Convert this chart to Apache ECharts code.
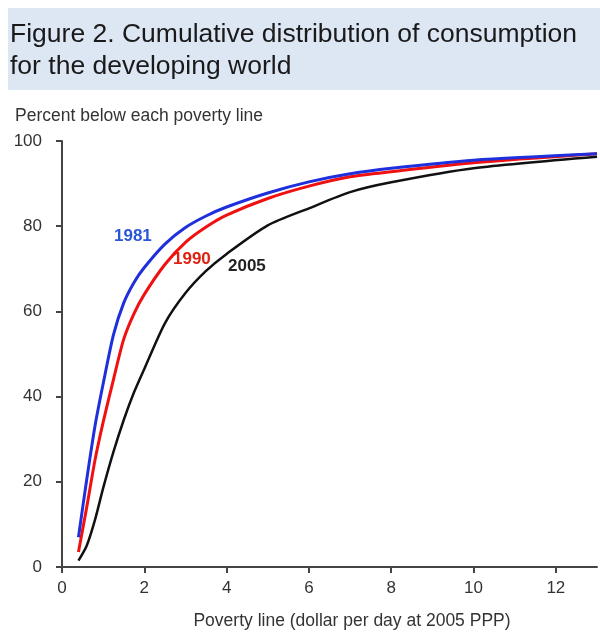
<!DOCTYPE html>
<html>
<head>
<meta charset="utf-8">
<script src="https://cdn.jsdelivr.net/npm/echarts@6/dist/echarts.min.js"></script>
<style>
  html, body { margin: 0; padding: 0; background: #fff; }
  #chart { width: 600px; height: 635px; }
</style>
</head>
<body>
<div id="chart"></div>
<script>
// poverty line (dollar per day) and percent below for each year
const povertyLines = [0.4, 0.6, 0.8, 1.0, 1.25, 1.5, 1.75, 2, 2.5, 3, 3.5, 4, 5, 6, 7, 8, 10, 13]
const pct1981 = [7, 20.5, 33, 43, 54.5, 62, 66.8, 70.3, 75.8, 79.7, 82.4, 84.5, 87.8, 90.4, 92.3, 93.6, 95.5, 97]
const pct1990 = [3.5, 14, 25, 34, 44, 53.5, 59.5, 64, 71, 76.2, 79.8, 82.6, 86.5, 89.4, 91.6, 92.8, 94.9, 97]
const pct2005 = [1.5, 5, 11, 18.5, 27, 34.5, 41, 46.5, 57.2, 64.3, 69.5, 73.5, 80.2, 84.2, 88, 90.3, 93.6, 96.3]
const xTicks = [0, 2, 4, 6, 8, 10, 12]

const toPairs = (ys) => ys.map((y, i) => [povertyLines[i], y])

const chart = echarts.init(document.getElementById('chart'))
const option = {
  animation: false,
  title: {
    text: 'Figure 2. Cumulative distribution of consumption\nfor the developing world',
    left: 5,
    top: 14,
    textStyle: {
      fontFamily: 'Liberation Sans, Arial',
      fontSize: 26.5,
      fontWeight: 'normal',
      color: '#1a1a1a',
      lineHeight: 32
    }
  },
  graphic: [
    {
      type: 'rect',
      left: 8,
      top: 8,
      z: -1,
      shape: { width: 592, height: 82 },
      style: { fill: '#dde6f3' }
    },
    {
      type: 'text',
      left: 15,
      top: 107,
      style: { text: 'Percent below each poverty line', fill: '#333', font: '17.5px Liberation Sans, Arial' }
    },
    {
      type: 'text',
      left: 114,
      top: 228,
      style: { text: '1981', fill: '#2a55d8', font: 'bold 17px Liberation Sans, Arial' }
    },
    {
      type: 'text',
      left: 173,
      top: 251,
      style: { text: '1990', fill: '#e02010', font: 'bold 17px Liberation Sans, Arial' }
    },
    {
      type: 'text',
      left: 228,
      top: 258,
      style: { text: '2005', fill: '#222', font: 'bold 17px Liberation Sans, Arial' }
    }
  ],
  grid: {
    left: 62,
    right: 3,
    top: 141,
    bottom: 63
  },
  xAxis: {
    type: 'value',
    min: 0,
    max: 13,
    interval: 2,
    name: 'Poverty line (dollar per day at 2005 PPP)',
    nameLocation: 'middle',
    nameGap: 45,
    nameTextStyle: { color: '#333', fontSize: 17.5, fontFamily: 'Liberation Sans, Arial', padding: [0, 0, 0, 45] },
    axisLine: { lineStyle: { color: '#444', width: 2 } },
    axisTick: { show: true, length: 6, lineStyle: { color: '#444', width: 2 }, customValues: xTicks },
    axisLabel: { color: '#333', fontSize: 17, fontFamily: 'Liberation Sans, Arial', margin: 13, customValues: xTicks },
    splitLine: { show: false }
  },
  yAxis: {
    type: 'value',
    min: 0,
    max: 100,
    interval: 20,
    axisLine: { show: true, lineStyle: { color: '#444', width: 2 } },
    axisTick: { show: true, length: 6, lineStyle: { color: '#444', width: 2 } },
    axisLabel: { color: '#333', fontSize: 17, fontFamily: 'Liberation Sans, Arial', margin: 20 },
    splitLine: { show: false }
  },
  series: [
    {
      name: '2005',
      type: 'line',
      data: toPairs(pct2005),
      smooth: 0.25,
      symbol: 'none',
      lineStyle: { color: '#111', width: 2.5 }
    },
    {
      name: '1990',
      type: 'line',
      data: toPairs(pct1990),
      smooth: 0.25,
      symbol: 'none',
      lineStyle: { color: '#f01010', width: 3 }
    },
    {
      name: '1981',
      type: 'line',
      data: toPairs(pct1981),
      smooth: 0.25,
      symbol: 'none',
      lineStyle: { color: '#1f2fdc', width: 3 }
    }
  ]
}
chart.setOption(option)
</script>
</body>
</html>
